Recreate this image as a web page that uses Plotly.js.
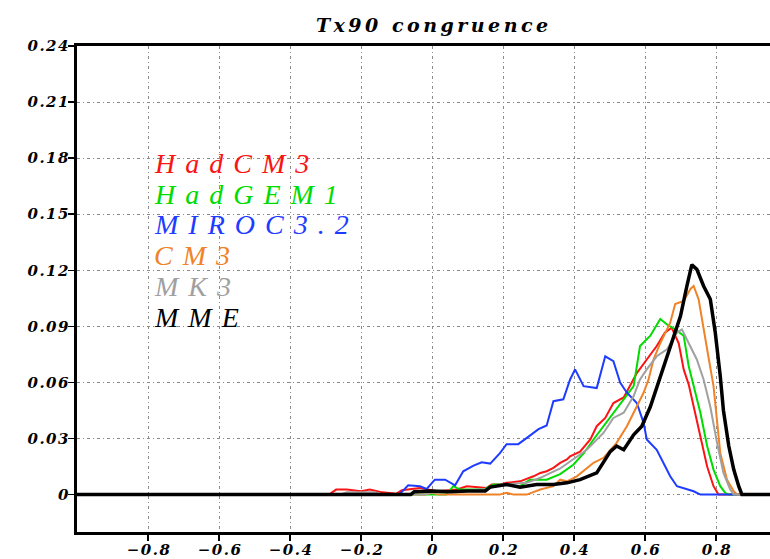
<!DOCTYPE html>
<html>
<head>
<meta charset="utf-8">
<script src="https://cdn.plot.ly/plotly-3.0.1.min.js"></script>
<style>
  html, body { margin: 0; padding: 0; overflow: hidden; background: #fff; }
  #chart { width: 800px; height: 559px; }
  .xtick text, .ytick text { letter-spacing: 1.5px; }
  .annotation-text { letter-spacing: 10px; }
  .gtitle { letter-spacing: 3.5px; }
</style>
</head>
<body>
<div id="chart"></div>
<script>
// ---- data ----
const seriesNames = ['HadCM3', 'HadGEM1', 'MIROC3.2', 'CM3', 'MK3', 'MME'];

const hadcm3X = [-1, -0.29, -0.27, -0.24, -0.2, -0.175, -0.14, -0.1, -0.085, -0.05, -0.034, 0.013, 0.07, 0.098, 0.154, 0.168, 0.192, 0.21, 0.248, 0.286, 0.305, 0.323, 0.342, 0.361, 0.38, 0.389, 0.408, 0.417, 0.446, 0.464, 0.488, 0.511, 0.54, 0.558, 0.577, 0.605, 0.633, 0.656, 0.675, 0.695, 0.709, 0.723, 0.737, 0.756, 0.775, 0.793, 0.807, 1];
const hadcm3Y = [0, 0, 0.0027, 0.0027, 0.0018, 0.0027, 0.0012, 0.0005, 0.0023, 0.003, 0.0036, 0.0018, 0.0027, 0.0045, 0.0036, 0.0054, 0.0054, 0.0063, 0.0071, 0.0098, 0.0116, 0.0125, 0.0143, 0.017, 0.0188, 0.0205, 0.022, 0.023, 0.0295, 0.0366, 0.041, 0.049, 0.052, 0.058, 0.065, 0.0723, 0.0795, 0.0866, 0.0893, 0.081, 0.067, 0.059, 0.047, 0.031, 0.015, 0.0045, 0, 0];

const hadgem1X = [-1, 0.04, 0.06, 0.079, 0.12, 0.145, 0.173, 0.2, 0.248, 0.276, 0.323, 0.361, 0.398, 0.427, 0.455, 0.483, 0.511, 0.54, 0.568, 0.586, 0.615, 0.643, 0.662, 0.685, 0.709, 0.723, 0.737, 0.756, 0.775, 0.793, 0.812, 0.826, 0.835, 1];
const hadgem1Y = [0, 0, 0.0045, 0.0027, 0.0027, 0.0027, 0.0054, 0.0054, 0.0045, 0.008, 0.008, 0.011, 0.016, 0.022, 0.0295, 0.0366, 0.0438, 0.051, 0.058, 0.0795, 0.085, 0.094, 0.091, 0.0884, 0.085, 0.0688, 0.058, 0.0438, 0.026, 0.0134, 0.0045, 0.001, 0, 0];

const mirocX = [-1, -0.1, -0.09, -0.067, -0.034, -0.015, 0.008, 0.037, 0.065, 0.088, 0.117, 0.14, 0.164, 0.192, 0.21, 0.243, 0.272, 0.3, 0.323, 0.342, 0.37, 0.389, 0.403, 0.427, 0.464, 0.488, 0.511, 0.53, 0.549, 0.577, 0.596, 0.605, 0.633, 0.652, 0.671, 0.69, 0.737, 0.756, 1];
const mirocY = [0, 0, 0.0005, 0.005, 0.0045, 0.003, 0.008, 0.008, 0.005, 0.0125, 0.0155, 0.0173, 0.0166, 0.0223, 0.027, 0.027, 0.031, 0.035, 0.037, 0.05, 0.051, 0.0616, 0.067, 0.058, 0.057, 0.074, 0.0714, 0.06, 0.0545, 0.049, 0.0384, 0.0295, 0.024, 0.017, 0.0098, 0.0045, 0.0018, 0, 0];

const cm3X = [-1, -0.02, 0.0, 0.02, 0.19, 0.21, 0.23, 0.267, 0.305, 0.342, 0.361, 0.38, 0.408, 0.455, 0.483, 0.52, 0.549, 0.577, 0.596, 0.61, 0.624, 0.643, 0.671, 0.685, 0.709, 0.728, 0.737, 0.751, 0.765, 0.78, 0.793, 0.803, 0.812, 0.831, 0.85, 0.86, 1];
const cm3Y = [0, 0, 0.001, 0, 0, 0.001, 0, 0, 0.0027, 0.0045, 0.008, 0.0071, 0.0098, 0.017, 0.0197, 0.0277, 0.0366, 0.047, 0.0545, 0.0616, 0.0723, 0.081, 0.092, 0.102, 0.1036, 0.11, 0.1116, 0.1045, 0.09, 0.0723, 0.058, 0.04, 0.0223, 0.008, 0.0018, 0, 0];

const mk3X = [-1, -0.26, -0.24, -0.16, -0.14, -0.02, 0.0, 0.02, 0.154, 0.192, 0.267, 0.305, 0.361, 0.398, 0.436, 0.483, 0.511, 0.54, 0.568, 0.586, 0.605, 0.633, 0.662, 0.69, 0.704, 0.718, 0.746, 0.765, 0.784, 0.803, 0.821, 0.84, 0.85, 1];
const mk3Y = [0, 0, 0.0012, 0.0012, 0, 0, 0.0012, 0.001, 0.003, 0.0054, 0.0063, 0.009, 0.014, 0.0188, 0.024, 0.033, 0.041, 0.0438, 0.0527, 0.0616, 0.067, 0.074, 0.0777, 0.0866, 0.0884, 0.083, 0.0723, 0.0616, 0.047, 0.0277, 0.0116, 0.0027, 0, 0];

const mmeX = [-1, -0.06, -0.05, 0.0, 0.05, 0.1, 0.15, 0.164, 0.21, 0.248, 0.295, 0.342, 0.38, 0.417, 0.464, 0.502, 0.52, 0.54, 0.568, 0.591, 0.615, 0.643, 0.671, 0.7, 0.718, 0.732, 0.746, 0.765, 0.784, 0.798, 0.812, 0.821, 0.836, 0.85, 0.864, 0.873, 1];
const mmeY = [0, 0, 0.0015, 0.002, 0.0015, 0.002, 0.002, 0.004, 0.0054, 0.004, 0.0054, 0.0054, 0.0063, 0.008, 0.0116, 0.023, 0.026, 0.024, 0.032, 0.0366, 0.047, 0.063, 0.0777, 0.0955, 0.1116, 0.123, 0.1205, 0.1116, 0.1045, 0.0866, 0.0634, 0.045, 0.026, 0.0134, 0.0045, 0, 0];

const xTickVals = [-0.8, -0.6, -0.4, -0.2, 0, 0.2, 0.4, 0.6, 0.8];
const xTickText = ['\u22120.8', '\u22120.6', '\u22120.4', '\u22120.2', '0', '0.2', '0.4', '0.6', '0.8'];
const yTickVals = [0, 0.03, 0.06, 0.09, 0.12, 0.15, 0.18, 0.21, 0.24];
const yTickText = ['0', '0.03', '0.06', '0.09', '0.12', '0.15', '0.18', '0.21', '0.24'];

const titleText = 'Tx90 congruence';

// ---- styling ----
const colors = ['rgb(250,20,20)', 'rgb(0,220,0)', 'rgb(30,60,255)', 'rgb(240,130,40)', 'rgb(160,160,160)', 'rgb(0,0,0)'];
const widths = [2, 2, 2, 2, 2, 3.5];
const xs = [hadcm3X, hadgem1X, mirocX, cm3X, mk3X, mmeX];
const ys = [hadcm3Y, hadgem1Y, mirocY, cm3Y, mk3Y, mmeY];

const traces = seriesNames.map((n, i) => ({
  type: 'scatter', mode: 'lines', name: n,
  x: xs[i], y: ys[i],
  line: { color: colors[i], width: widths[i] },
  hoverinfo: 'skip'
}));

const FONT = '"Liberation Serif", "Times New Roman", serif';
const TICKFONT = '"DejaVu Serif", "Liberation Serif", serif';

const annotations = seriesNames.map((n, i) => ({
  xref: 'x', yref: 'y',
  x: -0.79, y: 0.1773 - i * 0.0165,
  xanchor: 'left', yanchor: 'middle', align: 'left',
  text: n, showarrow: false,
  font: { family: FONT, size: 28, style: 'italic', color: colors[i] }
}));

const axisCommon = {
  showline: true, linecolor: '#000', linewidth: 3, mirror: true,
  ticks: 'outside', ticklen: 6, tickwidth: 1.5, tickcolor: '#000',
  showgrid: true, gridcolor: '#8a8a8a', gridwidth: 1, griddash: '3px,3px,1px,3px',
  zeroline: false,
  tickfont: { family: TICKFONT, size: 15, style: 'italic', weight: 'bold', color: '#000' },
  fixedrange: true
};

const layout = {
  width: 800, height: 559,
  margin: { l: 77, r: 13, t: 46, b: 27 },
  paper_bgcolor: '#fff', plot_bgcolor: '#fff',
  showlegend: false,
  title: {
    text: titleText,
    font: { family: TICKFONT, size: 19, style: 'italic', weight: 'bold', color: '#000' },
    xref: 'paper', x: 0.5025, xanchor: 'center',
    yref: 'container', y: 0.955, yanchor: 'middle'
  },
  xaxis: Object.assign({}, axisCommon, {
    range: [-1, 1], tickmode: 'array', tickvals: xTickVals, ticktext: xTickText,
    ticklabelshift: 1, ticklabelstandoff: -4
  }),
  yaxis: Object.assign({}, axisCommon, {
    range: [-0.02, 0.24], tickmode: 'array', tickvals: yTickVals, ticktext: yTickText,
    ticklabelstandoff: -5
  }),
  annotations: annotations
};

Plotly.newPlot('chart', traces, layout, { displayModeBar: false, staticPlot: true });
</script>
</body>
</html>
